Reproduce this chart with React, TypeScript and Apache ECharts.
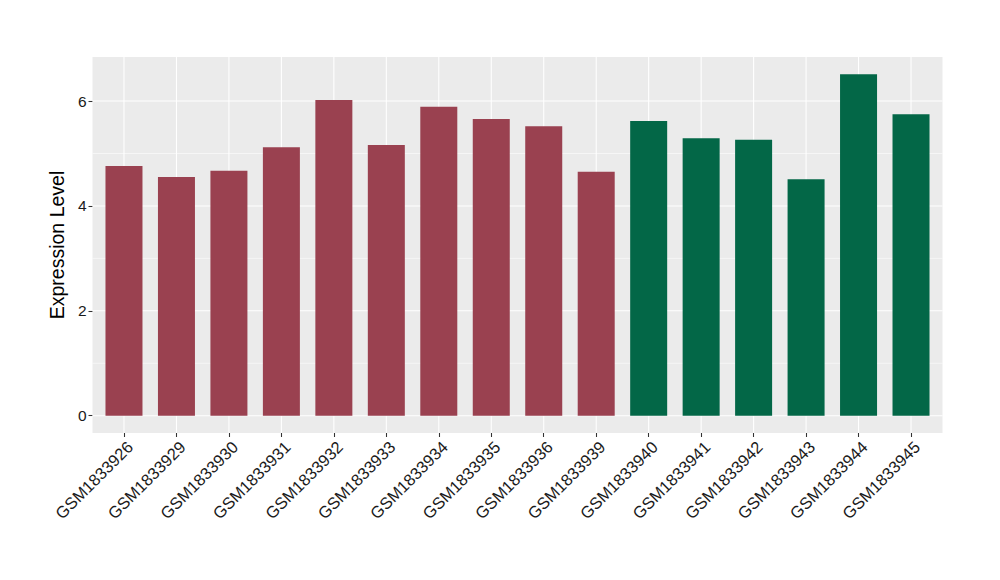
import React, { useEffect, useRef } from "react";
import * as echarts from "echarts";

const categories = [
  "GSM1833926", "GSM1833929", "GSM1833930", "GSM1833931", "GSM1833932",
  "GSM1833933", "GSM1833934", "GSM1833935", "GSM1833936", "GSM1833939",
  "GSM1833940", "GSM1833941", "GSM1833942", "GSM1833943", "GSM1833944",
  "GSM1833945",
];
const values = [4.76, 4.55, 4.67, 5.12, 6.02, 5.16, 5.89, 5.66, 5.52, 4.65, 5.62, 5.29, 5.26, 4.51, 6.51, 5.75];
const groups = ["A", "A", "A", "A", "A", "A", "A", "A", "A", "A", "B", "B", "B", "B", "B", "B"];
const groupColors: Record<string, string> = { A: "#9A4150", B: "#036747" };
const yTicks = [0, 2, 4, 6];
const yMinor = [1, 3, 5];
const yTitle = "Expression Level";

export default function App() {
  const ref = useRef<HTMLDivElement>(null);
  useEffect(() => {
    if (!ref.current) return;
    const chart = echarts.init(ref.current, null, { renderer: "svg" });
    const idx = categories.map((_, i) => i);
    const font = "'Liberation Sans', Arial, Helvetica, sans-serif";
    const hLine = (width: number) => (params: any, api: any) => {
      const cs = params.coordSys;
      const p = api.coord([0, api.value(1)]);
      return {
        type: "line",
        shape: { x1: cs.x, y1: p[1], x2: cs.x + cs.width, y2: p[1] },
        style: { stroke: "#FFFFFF", lineWidth: width },
        silent: true,
      };
    };
    const vLine = (params: any, api: any) => {
      const cs = params.coordSys;
      const p = api.coord([api.value(0), 0]);
      return {
        type: "line",
        shape: { x1: p[0], y1: cs.y, x2: p[0], y2: cs.y + cs.height },
        style: { stroke: "#FFFFFF", lineWidth: 1.07 },
        silent: true,
      };
    };
    chart.setOption({
      animation: false,
      textStyle: { fontFamily: font },
      grid: {
        left: 92.5,
        right: 57.5,
        top: 57,
        bottom: 147,
        show: true,
        backgroundColor: "#EBEBEB",
        borderWidth: 0,
      },
      xAxis: {
        type: "value",
        min: -0.6,
        max: 15.6,
        axisLine: { show: false, onZero: false },
        splitLine: { show: false },
        axisTick: {
          show: true,
          customValues: idx,
          length: 4,
          lineStyle: { color: "#333333", width: 1.07 },
        },
        axisLabel: {
          customValues: idx,
          rotate: 45,
          fontSize: 16.5,
          color: "#1A1A1A",
          margin: 5,
          align: "right",
          verticalAlign: "top",
          fontFamily: font,
          formatter: (v: number) => categories[Math.round(v)] ?? "",
        },
      },
      yAxis: {
        type: "value",
        min: -0.33,
        max: 6.84,
        name: yTitle,
        nameLocation: "middle",
        nameGap: 19,
        nameTextStyle: { fontSize: 19.5, color: "#000000", fontFamily: font },
        axisLine: { show: false, onZero: false },
        splitLine: { show: false },
        axisTick: {
          show: true,
          customValues: yTicks,
          length: 4,
          lineStyle: { color: "#333333", width: 1.07 },
        },
        axisLabel: {
          customValues: yTicks,
          fontSize: 15.5,
          color: "#1A1A1A",
          margin: 6,
          fontFamily: font,
        },
      },
      series: [
        {
          type: "custom",
          z: 1,
          silent: true,
          renderItem: hLine(0.55),
          data: yMinor.map((v) => [0, v]),
        },
        {
          type: "custom",
          z: 1,
          silent: true,
          renderItem: hLine(1.07),
          data: yTicks.map((v) => [0, v]),
        },
        {
          type: "custom",
          z: 1,
          silent: true,
          renderItem: vLine,
          data: idx.map((i) => [i, 0]),
        },
        {
          type: "bar",
          z: 2,
          barWidth: 37,
          data: values.map((v, i) => ({
            value: [i, v],
            itemStyle: { color: groupColors[groups[i]] },
          })),
        },
      ],
    });
    return () => chart.dispose();
  }, []);
  return (
    <div
      ref={ref}
      style={{ position: "fixed", left: 0, top: 0, width: 1000, height: 580, background: "#FFFFFF" }}
    />
  );
}
